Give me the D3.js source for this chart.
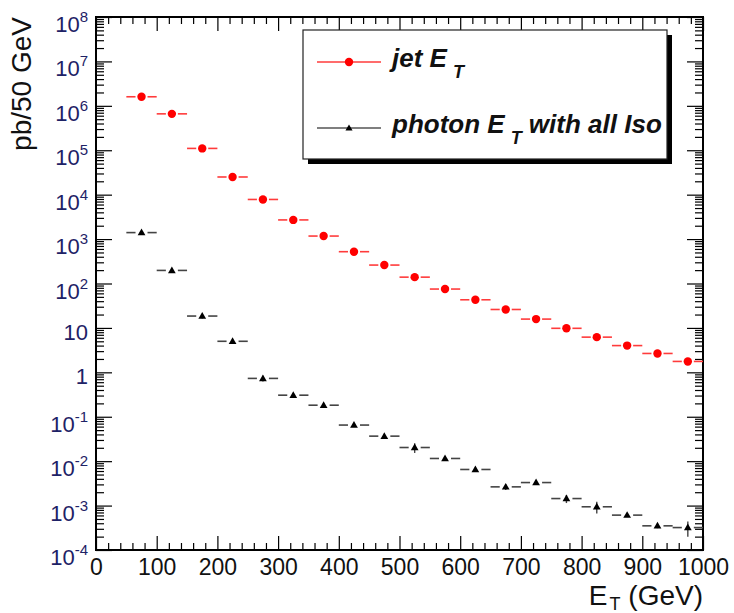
<!DOCTYPE html>
<html>
<head>
<meta charset="utf-8">
<script src="https://cdn.jsdelivr.net/npm/d3@7"></script>
<style>
  html, body { margin: 0; padding: 0; background: #fff; }
  svg { display: block; font-family: "Liberation Sans", Arial, sans-serif; }
</style>
</head>
<body>
<div id="chart"></div>
<script>
// bin centres (GeV), 50 GeV wide bins
var binCentres = [75, 125, 175, 225, 275, 325, 375, 425, 475, 525, 575, 625, 675, 725, 775, 825, 875, 925, 975];
var binWidth = 50;

// jet E_T (pb/50 GeV)
var jetValues = [1.6e6, 6.6e5, 1.1e5, 2.5e4, 7.8e3, 2.7e3, 1.17e3, 520, 260, 139, 75, 43, 26, 15.8, 9.8, 6.2, 4.0, 2.66, 1.76];

// photon E_T with all Iso (pb/50 GeV) and its errors
var photonValues = [1.4e3, 197, 18.5, 5.0, 0.73, 0.306, 0.182, 0.065, 0.0366, 0.0203, 0.0115, 0.0065, 0.00264, 0.0033, 0.00144, 0.00094, 0.00061, 0.00035, 0.00032];
var photonErrors = [70, 14, 2.2, 0.45, 0.11, 0.03, 0.015, 0.0065, 0.0045, 0.005, 0.0014, 0.0007, 0.0004, 0.0004, 0.0003, 0.00028, 0.00006, 0.00004, 0.00012];

var xTickLabels = ['0', '100', '200', '300', '400', '500', '600', '700', '800', '900', '1000'];
var yExponents = [8, 7, 6, 5, 4, 3, 2, 1, 0, -1, -2, -3, -4];

var legendLabels = [['jet E', 'T', ''], ['photon E', 'T', ' with all Iso']];

var W = 734, H = 613;
// frame edges (note: `top` is a reserved window property, so prefix them)
var fLeft = 96, fRight = 703, fTop = 17, fBottom = 550;

var svg = d3.select('#chart').append('svg').attr('width', W).attr('height', H);

var x = d3.scaleLinear().domain([0, 1000]).range([fLeft, fRight]);
var y = d3.scaleLog().domain([1e-4, 1e8]).range([fBottom, fTop]);

var majorX = d3.range(0, 1001, 100);
var minorX = d3.range(0, 1001, 20).filter(function (d) { return d % 100 !== 0; });
var majorY = yExponents.map(function (e) { return Math.pow(10, e); });
var minorY = [];
yExponents.slice(1).forEach(function (e) {
  for (var k = 2; k <= 9; k++) minorY.push(k * Math.pow(10, e));
});

function tickAxis(axis, values, size, tx, ty) {
  // * draws one set of inward ticks, no labels
  var g = svg.append('g').attr('transform', 'translate(' + tx + ',' + ty + ')')
    .call(axis.tickValues(values).tickSizeInner(size).tickSizeOuter(0).tickFormat(''));
  g.select('.domain').remove();
  g.selectAll('line').attr('stroke', '#000').attr('stroke-width', 1.2);
  return g;
}

// ticks on all four sides, pointing inwards
tickAxis(d3.axisBottom(x), majorX, -14, 0, fBottom);
tickAxis(d3.axisBottom(x), minorX, -7, 0, fBottom);
tickAxis(d3.axisTop(x), majorX, -14, 0, fTop);
tickAxis(d3.axisTop(x), minorX, -7, 0, fTop);
tickAxis(d3.axisLeft(y), majorY, -16, fLeft, 0);
tickAxis(d3.axisLeft(y), minorY, -8, fLeft, 0);
tickAxis(d3.axisRight(y), majorY, -16, fRight, 0);
tickAxis(d3.axisRight(y), minorY, -8, fRight, 0);

// frame
svg.append('rect').attr('x', fLeft).attr('y', fTop).attr('width', fRight - fLeft).attr('height', fBottom - fTop)
  .attr('fill', 'none').attr('stroke', '#000').attr('stroke-width', 2);

// x tick labels
var xl = svg.append('g').attr('transform', 'translate(0,' + fBottom + ')')
  .call(d3.axisBottom(x).tickValues(majorX).tickSize(0).tickPadding(9)
    .tickFormat(function (d, i) { return xTickLabels[i]; }));
xl.select('.domain').remove();
xl.selectAll('text').attr('font-size', 23).attr('fill', '#111').attr('font-family', null);

// y tick labels: 10^n, with 10 and 1 written plainly
var yl = svg.append('g').selectAll('text').data(yExponents).enter().append('text')
  .attr('x', 88).attr('text-anchor', 'end').attr('fill', '#1e2266').attr('font-size', 22);
yl.each(function (e) {
  var t = d3.select(this);
  var yy = y(Math.pow(10, e));
  if (e === 1 || e === 0) {
    t.attr('y', yy + 12).text(e === 1 ? '10' : '1');
  } else {
    t.attr('y', yy + 15);
    t.append('tspan').text('10');
    t.append('tspan').attr('font-size', 15).attr('dy', -10).text(e);
  }
});

// axis titles
svg.append('text').attr('transform', 'translate(31,' + fTop + ') rotate(-90)')
  .attr('text-anchor', 'end').attr('font-size', 28).attr('fill', '#111').text('pb/50 GeV');
var xt = svg.append('text').attr('x', fRight).attr('y', 605).attr('text-anchor', 'end')
  .attr('font-size', 28).attr('fill', '#111');
xt.append('tspan').text('E');
xt.append('tspan').attr('font-size', 18).attr('dx', 2).attr('dy', 5).text('T');
xt.append('tspan').attr('dy', -5).text(' (GeV)');

function drawSeries(values, errors, colour, barColour, marker) {
  // * horizontal bin bars with a gap round the marker, vertical errors, markers
  var g = svg.append('g');
  var gap = 6;
  values.forEach(function (v, i) {
    var cx = x(binCentres[i]), cy = y(v);
    var x0 = x(binCentres[i] - binWidth / 2), x1 = x(binCentres[i] + binWidth / 2);
    g.append('line').attr('x1', x0).attr('x2', cx - gap).attr('y1', cy).attr('y2', cy)
      .attr('stroke', barColour).attr('stroke-width', 1.6);
    g.append('line').attr('x1', cx + gap).attr('x2', x1).attr('y1', cy).attr('y2', cy)
      .attr('stroke', barColour).attr('stroke-width', 1.6);
    if (errors) {
      g.append('line').attr('x1', cx).attr('x2', cx)
        .attr('y1', y(Math.max(v - errors[i], 1.01e-4))).attr('y2', y(v + errors[i]))
        .attr('stroke', barColour).attr('stroke-width', 1.4);
    }
    if (marker === 'circle') {
      g.append('circle').attr('cx', cx).attr('cy', cy).attr('r', 4.2).attr('fill', colour);
    } else {
      g.append('path').attr('d', d3.symbol().type(d3.symbolTriangle).size(26)())
        .attr('transform', 'translate(' + cx + ',' + (cy + 0.5) + ')').attr('fill', colour);
    }
  });
}

drawSeries(jetValues, null, '#ff0000', '#ff3b3b', 'circle');
drawSeries(photonValues, photonErrors, '#000', '#444', 'triangle');

// legend with ROOT style shadow
var lx = 303, ly = 30, lw = 364, lh = 129;
svg.append('rect').attr('x', lx + 5).attr('y', ly + 5).attr('width', lw).attr('height', lh).attr('fill', '#000');
svg.append('rect').attr('x', lx).attr('y', ly).attr('width', lw).attr('height', lh)
  .attr('fill', '#fff').attr('stroke', '#222').attr('stroke-width', 1.2);

var rows = [{ y: 62, colour: '#ff0000', bar: '#ff3b3b', marker: 'circle' },
            { y: 128, colour: '#000', bar: '#555', marker: 'triangle' }];
rows.forEach(function (r, i) {
  svg.append('line').attr('x1', 317).attr('x2', 381).attr('y1', r.y).attr('y2', r.y)
    .attr('stroke', r.bar).attr('stroke-width', 1.6);
  if (r.marker === 'circle') {
    svg.append('circle').attr('cx', 349).attr('cy', r.y).attr('r', 4.2).attr('fill', r.colour);
  } else {
    svg.append('path').attr('d', d3.symbol().type(d3.symbolTriangle).size(22)())
      .attr('transform', 'translate(349,' + (r.y + 0.5) + ')').attr('fill', r.colour);
  }
  var t = svg.append('text').attr('x', 392).attr('y', r.y + 5).attr('font-size', 26)
    .attr('font-weight', 'bold').attr('font-style', 'italic').attr('fill', '#111');
  t.append('tspan').text(legendLabels[i][0]);
  t.append('tspan').attr('font-size', 18).attr('dx', 6).attr('dy', 11).text(legendLabels[i][1]);
  if (legendLabels[i][2]) t.append('tspan').attr('dy', -11).text(legendLabels[i][2]);
});
</script>
</body>
</html>
